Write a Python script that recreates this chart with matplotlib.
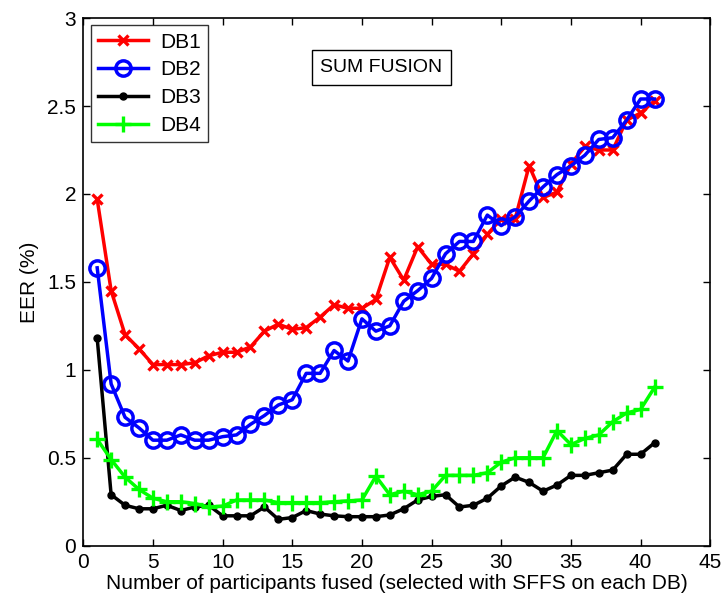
import matplotlib.pyplot as plt
import numpy as np

plt.rcParams['font.family'] = ['Liberation Sans', 'DejaVu Sans']

# number of participants fused
n_fused = list(range(1, 42))

eer_db1 = [1.97, 1.45, 1.20, 1.12, 1.03, 1.03, 1.03, 1.04, 1.08, 1.10,
           1.10, 1.13, 1.22, 1.26, 1.23, 1.24, 1.30, 1.37, 1.35, 1.35,
           1.40, 1.64, 1.51, 1.70, 1.60, 1.60, 1.56, 1.66, 1.77, 1.86,
           1.86, 2.16, 1.98, 2.01, 2.17, 2.27, 2.25, 2.25, 2.42, 2.46, 2.53]

eer_db2 = [1.58, 0.92, 0.73, 0.67, 0.60, 0.60, 0.63, 0.60, 0.60, 0.62,
           0.63, 0.69, 0.74, 0.80, 0.83, 0.98, 0.98, 1.11, 1.05, 1.29,
           1.22, 1.25, 1.39, 1.45, 1.52, 1.66, 1.73, 1.73, 1.88, 1.82,
           1.87, 1.96, 2.04, 2.11, 2.16, 2.22, 2.31, 2.32, 2.42, 2.54, 2.54]

eer_db3 = [1.18, 0.29, 0.23, 0.21, 0.21, 0.23, 0.20, 0.22, 0.23, 0.17,
           0.17, 0.17, 0.22, 0.15, 0.16, 0.20, 0.18, 0.17, 0.165, 0.165,
           0.165, 0.175, 0.21, 0.26, 0.28, 0.29, 0.22, 0.23, 0.27, 0.34,
           0.39, 0.36, 0.31, 0.345, 0.40, 0.40, 0.415, 0.43, 0.52, 0.52, 0.585]

eer_db4 = [0.605, 0.49, 0.39, 0.32, 0.27, 0.25, 0.25, 0.24, 0.22, 0.225,
           0.26, 0.26, 0.26, 0.245, 0.245, 0.245, 0.245, 0.25, 0.255, 0.26,
           0.395, 0.29, 0.31, 0.29, 0.31, 0.40, 0.40, 0.40, 0.415, 0.475,
           0.50, 0.50, 0.50, 0.655, 0.575, 0.61, 0.63, 0.705, 0.755, 0.775, 0.90]

fig = plt.figure(figsize=(7.24, 6.03), dpi=100)
ax = fig.add_axes([0.115, 0.095, 0.866, 0.875])

ax.plot(n_fused, eer_db1, color='#ff0000', lw=2.5, marker='x', ms=6.5, mew=2.4, label='DB1')
ax.plot(n_fused, eer_db2, color='#0000ff', lw=2.5, marker='o', ms=11, mew=2.5,
        mfc='none', label='DB2')
ax.plot(n_fused, eer_db3, color='black', lw=2.5, marker='o', ms=5, label='DB3')
ax.plot(n_fused, eer_db4, color='#00ff00', lw=2.5, marker='+', ms=11, mew=2.4, label='DB4')

ax.set_xlim(0, 45)
ax.set_ylim(0, 3)
ax.set_xticks(np.arange(0, 46, 5))
ax.set_yticks(np.arange(0, 3.01, 0.5))
ax.set_yticklabels(['0', '0.5', '1', '1.5', '2', '2.5', '3'])
ax.tick_params(direction='in', top=True, right=True, labelsize=15, length=5, width=1, pad=5)
for sp in ax.spines.values():
    sp.set_linewidth(1.2)

ax.set_xlabel('Number of participants fused (selected with SFFS on each DB)', fontsize=15, labelpad=2)
ax.set_ylabel('EER (%)', fontsize=15, labelpad=6)

leg = ax.legend(loc='upper left', fontsize=15, frameon=True, fancybox=False,
                edgecolor='black', borderaxespad=0.35, handlelength=2.4,
                labelspacing=0.42, borderpad=0.35, handletextpad=0.6)
leg.get_frame().set_linewidth(1.0)

ax.text(21.4, 2.72, 'SUM FUSION', fontsize=14, ha='center', va='center',
        bbox=dict(boxstyle='square,pad=0.45', fc='white', ec='black', lw=1.0))

plt.savefig('out.png', dpi=100)
